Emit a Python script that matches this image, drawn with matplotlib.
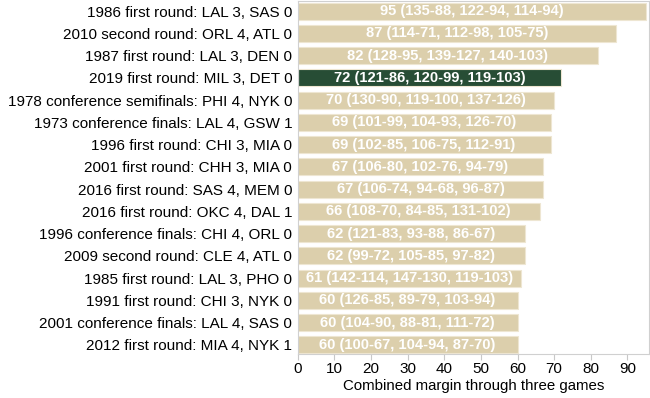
import matplotlib.pyplot as plt

plt.rcParams['font.family'] = ['Liberation Sans', 'DejaVu Sans']

series = [
    "1986 first round: LAL 3, SAS 0",
    "2010 second round: ORL 4, ATL 0",
    "1987 first round: LAL 3, DEN 0",
    "2019 first round: MIL 3, DET 0",
    "1978 conference semifinals: PHI 4, NYK 0",
    "1973 conference finals: LAL 4, GSW 1",
    "1996 first round: CHI 3, MIA 0",
    "2001 first round: CHH 3, MIA 0",
    "2016 first round: SAS 4, MEM 0",
    "2016 first round: OKC 4, DAL 1",
    "1996 conference finals: CHI 4, ORL 0",
    "2009 second round: CLE 4, ATL 0",
    "1985 first round: LAL 3, PHO 0",
    "1991 first round: CHI 3, NYK 0",
    "2001 conference finals: LAL 4, SAS 0",
    "2012 first round: MIA 4, NYK 1",
]
margins = [95, 87, 82, 72, 70, 69, 69, 67, 67, 66, 62, 62, 61, 60, 60, 60]
scores = [
    "135-88, 122-94, 114-94",
    "114-71, 112-98, 105-75",
    "128-95, 139-127, 140-103",
    "121-86, 120-99, 119-103",
    "130-90, 119-100, 137-126",
    "101-99, 104-93, 126-70",
    "102-85, 106-75, 112-91",
    "106-80, 102-76, 94-79",
    "106-74, 94-68, 96-87",
    "108-70, 84-85, 131-102",
    "121-83, 93-88, 86-67",
    "99-72, 105-85, 97-82",
    "142-114, 147-130, 119-103",
    "126-85, 89-79, 103-94",
    "104-90, 88-81, 111-72",
    "100-67, 104-94, 87-70",
]
highlight = "2019 first round: MIL 3, DET 0"

TAN = "#DCCFAC"
GREEN = "#274D35"

fig = plt.figure(figsize=(6.5, 3.98), dpi=100)
ax = fig.add_axes([0.458, 0.111, 0.540, 0.886])

ypos = list(range(len(series)))
colors = [GREEN if s == highlight else TAN for s in series]
ax.barh(ypos, margins, height=0.76, color=colors,
        edgecolor="#EEE6D2", linewidth=0.8)

# score labels centred in each bar
for y, m, sc in zip(ypos, margins, scores):
    ax.text(m / 2, y, f"{m} ({sc})", ha="center", va="center",
            color="white", fontsize=10.6, fontweight="bold")

ax.set_yticks(ypos)
ax.set_yticklabels(series, fontsize=11)
ax.set_ylim(15.4, -0.45)
ax.set_xlim(0, 95.8)
ax.set_xticks(range(0, 100, 10))
ax.tick_params(axis="x", labelsize=11, length=4, color="#C8C8C8", pad=2)
ax.tick_params(axis="y", length=0, pad=4)
ax.set_xlabel("Combined margin through three games", fontsize=10.8, labelpad=2)

for sp in ax.spines.values():
    sp.set_color("#D0D0D0")
    sp.set_linewidth(0.8)

fig.savefig("out.png", dpi=100)
